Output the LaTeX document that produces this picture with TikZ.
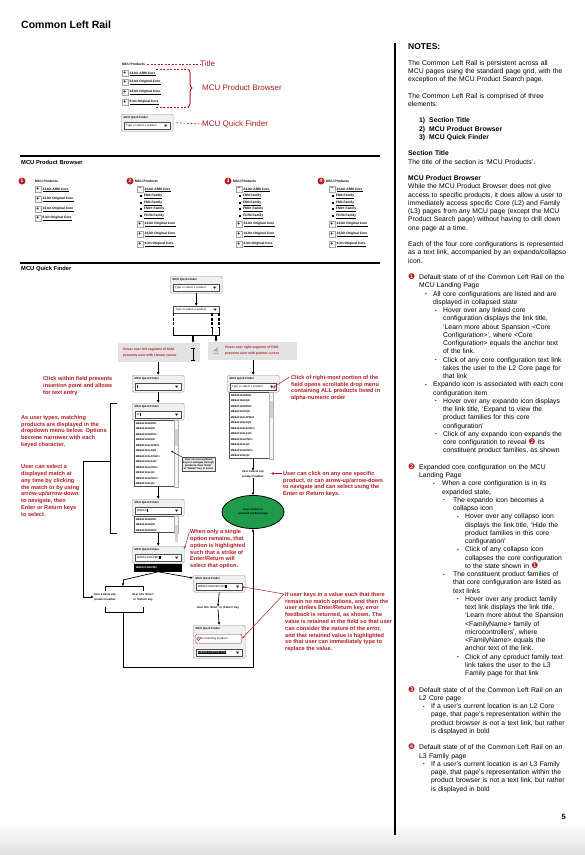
\documentclass[tikz,border=0pt]{standalone}
\usepackage{fontspec}
\setmainfont{Liberation Sans}
\newfontfamily\symfont{DejaVu Sans}
\usetikzlibrary{positioning,arrows.meta,decorations.pathreplacing,shapes.geometric}

\definecolor{notered}{HTML}{B71C22}
\definecolor{hovergray}{HTML}{E2E2E2}
\definecolor{pagegreen}{HTML}{1F9A4A}
\definecolor{framegray}{HTML}{9A9A9A}

\newcommand{\fs}[2]{\fontsize{#1}{#2}\selectfont}
\newcommand{\cnum}[1]{\smash{{\symfont\fs{7.8}{8}\textcolor{notered}{#1}}}}
\newcommand{\ind}[1]{\hspace*{#1pt}}
\newcommand{\bul}[2]{\hspace*{#1pt}\makebox[#2pt][l]{\raisebox{0.6pt}{\fs{4.5}{4.5}\textbullet}}}
\newcommand{\icur}{\rule[-0.5pt]{0.35pt}{3.4pt}}
\newcommand{\bcur}{\rule[-0.5pt]{1.6pt}{3.4pt}}
\newcommand{\hilite}[1]{{\setlength{\fboxsep}{0.4pt}\colorbox{black}{\textcolor{white}{#1}}}}

\tikzset{
  sechead/.style={anchor=west, inner sep=0, font=\bfseries\fs{5.8}{7}},
  minihead/.style={inner sep=0, font=\bfseries\fs{3.3}{4}},
  linklbl/.style={inner sep=0, anchor=west, font=\bfseries\fs{3.3}{4}},
  iconbox/.style={draw=gray!70, fill=gray!8, minimum size=5.5pt, inner sep=0, font=\bfseries\fs{5}{5}},
  fambullet/.style={fill=black, minimum size=2pt, inner sep=0},
  numdot/.style={circle, fill=notered, text=white, font=\bfseries\fs{5}{5}, inner sep=0, minimum size=7pt},
  redlbl/.style={text=notered, anchor=west, inner sep=0, font=\fs{8}{9}},
  reddash/.style={draw=notered, dashed, dash pattern=on 2pt off 1.5pt, line width=0.6pt},
  redbrace/.style={draw=notered, line width=1pt, decorate, decoration={brace, amplitude=4pt}},
  rednote/.style={text=notered, anchor=north west, align=left, inner sep=0, font=\bfseries\fs{5.6}{6.8}},
  redarrow/.style={draw=notered, line width=0.5pt, -{Latex[length=2.5pt,width=2pt]}},
  qfbox/.style={draw=framegray, fill=gray!12, rounded corners=1.5pt, minimum width=52pt, minimum height=17pt, inner sep=0},
  qftitle/.style={inner sep=0, font=\bfseries\fs{2.8}{3}},
  qffield/.style={draw=gray!60!black, fill=white, minimum width=46pt, minimum height=7pt, text width=41pt,
    inner xsep=1.2pt, inner ysep=0pt, align=left, font=\fs{2.8}{3}},
  qflistbox/.style={draw=gray!60!black, fill=white, text width=41pt, inner sep=1.6pt, align=left,
    font=\bfseries\fs{2.6}{5.5}},
  hoverbox/.style={fill=hovergray, inner sep=0, anchor=north west},
  hovertext/.style={text=notered, inner sep=0, anchor=west, align=left, font=\bfseries\fs{3.4}{6.2}},
  smalllbl/.style={inner sep=0, align=center, font=\bfseries\fs{2.8}{4.6}},
  flow/.style={line width=1.3pt, -{Latex[length=3pt,width=3pt]}},
  flowthin/.style={line width=0.7pt, -{Latex[length=2.6pt,width=2.6pt]}},
  segdash/.style={line width=1.3pt, dash pattern=on 3pt off 1.5pt},
  rule/.style={line width=1.6pt},
  handcur/.style={inner sep=0, font=\symfont\fs{9}{9}}
}

% one Quick Finder widget: name, left x, top y, field content
\newcommand{\qfwidget}[4]{%
  \node[qfbox, anchor=north west] (#1) at (#2,#3) {};
  \node[qftitle, anchor=north west] (#1-title) at ([xshift=2.5pt,yshift=-2.2pt]#1.north west) {MCU Quick Finder};
  \node[qffield, anchor=south west] (#1-field) at ([xshift=2.5pt,yshift=2pt]#1.south west) {#4};
  \qfarrow{#1-field}}
\newcommand{\qfarrow}[1]{%
  \fill[black!85] ([xshift=-6pt,yshift=1.1pt]#1.east) -- ++(3.4,0) -- ++(-1.7,2.2) -- cycle;}
% drop list under a widget: name, widget, items
\newcommand{\qflist}[3]{%
  \node[qflistbox, anchor=north west] (#1) at ([xshift=2pt]#2.south west) {#3};
  \draw[gray!60, fill=gray!8] ([xshift=-4pt]#1.north east) rectangle (#1.south east);
  \fill[gray!35] ([xshift=-3.4pt,yshift=-9pt]#1.north east) rectangle ([xshift=-0.6pt,yshift=-26pt]#1.north east);}
% core configuration link with expando icon
\newcommand{\coreitem}[5]{%
  \node[iconbox, anchor=west] (#1) at (#2,#3) {#4};
  \node[linklbl, right=1.6pt of #1] (#1-lbl) {#5};
  \draw[line width=0.25pt] ([yshift=-0.5pt]#1-lbl.south west) -- ([yshift=-0.5pt]#1-lbl.south east);}
\newcommand{\famitem}[4]{%
  \node[fambullet] (#1) at (#2,#3) {};
  \node[linklbl, right=1.8pt of #1] (#1-lbl) {#4};
  \draw[line width=0.25pt] ([yshift=-0.5pt]#1-lbl.south west) -- ([yshift=-0.5pt]#1-lbl.south east);}

\begin{document}
\begin{tikzpicture}[x=1pt, y=-1pt, font=\fs{6.8}{8.25}]

  % page
  \useasboundingbox (0,0) rectangle (585,855);
  \fill[white] (0,0) rectangle (585,855);
  \shade[top color=white, bottom color=gray!25] (0,822) rectangle (585,855);

  \node[anchor=base west, inner sep=0, font=\bfseries\fs{10.5}{12}] (page-title) at (21,28) {Common Left Rail};
  \draw[line width=2pt] (395,43) -- (395,835);

  % ---------------- the rail at a glance ----------------
  \node[minihead, anchor=west] (rail-head) at (122,64) {MCU Products};
  \foreach \y/\lbl [count=\i] in {73/32-bit ARM Core, 82/32-bit Original Core, 92/16-bit Original Core, 102/8-bit Original Core}
    \coreitem{rail-\i}{122}{\y}{+}{\lbl};
  \qfwidget{rail-qf}{121}{114}{Type or select a product}

  \node[redlbl] (lbl-title) at (200,64) {Title};
  \node[redlbl] (lbl-browser) at (202,88) {MCU Product Browser};
  \node[redlbl] (lbl-finder) at (202,124) {MCU Quick Finder};
  \coordinate (brace-in-top) at (156,69);
  \coordinate (brace-in-bot) at (156,107);
  \coordinate (brace-top) at (188,69);
  \coordinate (brace-bot) at (188,107);
  \draw[reddash] ([xshift=2pt]rail-head.east) -- (lbl-title.west);
  \draw[reddash] (brace-in-top) -- (brace-top);
  \draw[reddash] (brace-in-bot) -- (brace-bot);
  \draw[redbrace] (brace-top) -- (brace-bot);
  \draw[reddash] ([xshift=3pt]rail-qf.east) -- (lbl-finder.west);

  % ---------------- MCU Product Browser ----------------
  \draw[rule] (20,156) -- (380,156);
  \node[sechead] (sec-browser) at (21,162) {MCU Product Browser};

  \node[numdot] (num1) at (22,181) {1};
  \node[minihead, anchor=west] (col1-head) at (35,181) {MCU Products};
  \foreach \y/\lbl [count=\i] in {189/32-bit ARM Core, 199/32-bit Original Core, 209/16-bit Original Core, 218/8-bit Original Core}
    \coreitem{col1-\i}{35}{\y}{+}{\lbl};

  \foreach \n/\cx/\bx/\fx in {2/130/137/141, 3/228/236/240, 4/321/329/333} {
    \node[numdot] (num\n) at (\cx,181) {\n};
    \node[minihead, anchor=west] (col\n-head) at (\cx+5,181) {MCU Products};
    \coreitem{col\n-1}{\bx}{189}{--}{32-bit ARM Core}
    \foreach \y/\fam [count=\j] in {196/FM4 Family, 203/FM3 Family, 209/FM0+ Family, 216/FCR4 Family}
      \famitem{col\n-f\j}{\fx}{\y}{\fam};
    \foreach \y/\lbl [count=\j from 2] in {224/32-bit Original Core, 234/16-bit Original Core, 244/8-bit Original Core}
      \coreitem{col\n-\j}{\bx}{\y}{+}{\lbl};
  }

  % ---------------- MCU Quick Finder flow ----------------
  \draw[rule] (20,263) -- (380,263);
  \node[sechead] (sec-finder) at (21,269) {MCU Quick Finder};

  \qfwidget{qf-a}{170}{276}{Type or select a product}
  \node[qffield, anchor=north west] (qf-b) at (173,306) {Type or select a product};
  \qfarrow{qf-b}
  % field segments
  \coordinate (seg-l) at (193,335);
  \coordinate (seg-r) at (216,335);
  \draw[segdash] (173.5,313) -- (173.5,327);
  \draw[segdash] (212,313) -- (212,327);
  \draw[segdash] (219,313) -- (219,327);
  \draw[line width=0.8pt] (173.5,327) -- (173.5,335) -- (219,335) -- (219,327) (212,327) -- (212,335);

  \node[hoverbox, minimum width=82pt, minimum height=19pt] (hover-l) at (118,343) {};
  \node[hovertext] (hover-l-txt) at ([xshift=5pt]hover-l.west) {Hover over left segment of field\\presents user with I-beam cursor};
  \node[hoverbox, minimum width=89pt, minimum height=18pt] (hover-r) at (208,342) {};
  \node[handcur] (hand-r) at (216,351.5) {☝};
  \node[hovertext] (hover-r-txt) at (225,351) {Hover over right segment of field\\presents user with pointer cursor};
  \draw[line width=0.7pt] (191.3,348) -- (194.7,348) (193,348) -- (193,360) (191.3,360) -- (194.7,360);

  \qfwidget{qf-c}{132}{375}{\icur}
  \qfwidget{qf-d}{132}{403}{M\icur}
  \qflist{list-d}{qf-d}{MB9AF116NPMC\\MB9AF116NQN\\MB9AF132KPMC\\MB9AF132KQN\\MB9AF116LAPMC1\\MB9AF116LAQN\\MB9AF132LAPMC1\\MB9AF132LAQN\\MB9AF116LPMC1\\MB9AF116LQN\\MB9AF132LPMC1\\MB9AF132LQN}
  \node[draw=gray!60!black, fill=gray!15, inner sep=1pt, anchor=north west, align=center, font=\bfseries\fs{2.6}{3.3}] (tip-d) at (182,457) {User can use up/down\\keys to navigate through\\products, then `Enter'\\or `Return' key to select};
  \coordinate (tip-d-to) at (171,451);
  \draw[line width=0.4pt, -{Latex[length=2pt,width=1.8pt]}] (tip-d.north west) -- (tip-d-to);
  \qfwidget{qf-e}{132}{499}{MB9AF\icur}
  \qflist{list-e}{qf-e}{MB9AF116NPMC\\MB9AF116NQN\\MB9AF132KPMC}
  \qfwidget{qf-f}{132}{546}{MB9AF132KPMC\bcur}
  \node[fill=black, text=white, minimum width=48pt, minimum height=8pt, inner sep=1pt, text width=44pt, align=left,
    anchor=north west, font=\bfseries\fs{2.6}{3}] (bar-f) at ([xshift=2pt]qf-f.south west) {MB9AF132KPMC};

  \qfwidget{qf-g}{227}{375}{Type or select a product}
  \qflist{list-g}{qf-g}{MB9AF116NPMC\\MB9AF116NQN\\MB9AF132KPMC\\MB9AF132KQN\\MB9AF116LAPMC1\\MB9AF116LAQN\\MB9AF132LAPMC1\\MB9AF132LAQN\\MB9AF116LPMC1\\MB9AF116LQN\\MB9AF132LPMC1\\MB9AF132LQN}
  \node[handcur, font=\symfont\fs{8}{8}] (hand-g) at (273.5,389) {☝};
  \node[smalllbl] (sel-g) at (253,474.5) {User selects any\\product number};
  \node[ellipse, draw, line width=0.8pt, fill=pagegreen, minimum width=62pt, minimum height=33pt, inner sep=0,
    align=center, font=\bfseries\fs{2.8}{4.4}] (arrive) at (253,512) {User arrives at\\selected product page};

  \qfwidget{qf-h}{193}{575}{MB9AF132KPMC123\bcur}
  \node[smalllbl] (hits-h) at (218,608) {User hits `Enter' or `Return' key};
  \node[qfbox, anchor=north west, minimum height=33pt] (qf-i) at (193,625) {};
  \node[qftitle, anchor=north west] (qf-i-title) at ([xshift=2.5pt,yshift=-2.2pt]qf-i.north west) {MCU Quick Finder};
  \node[draw=notered, fill=white, rounded corners=1pt, minimum width=46pt, minimum height=9pt, text width=37pt,
    inner xsep=4.5pt, inner ysep=1pt, align=left, anchor=north west, font=\fs{2.8}{3}] (err-i) at (195.5,634) {No matching products};
  \node[circle, draw=notered, line width=0.4pt, inner sep=0, minimum size=3.6pt, text=notered, font=\bfseries\fs{2.6}{3}]
    (err-i-mark) at ([xshift=3pt]err-i.west) {!};
  \node[qffield, anchor=south west] (qf-i-field) at ([xshift=2.5pt,yshift=2pt]qf-i.south west) {\hilite{MB9AF132KPMC123}};
  \qfarrow{qf-i-field}

  % selection bracket
  \node[smalllbl] (pick-num) at (105,597) {User selects any\\product number};
  \node[smalllbl] (pick-key) at (143,597) {User hits `Enter'\\or `Return' key};
  \coordinate (pick-top) at (123,586);
  \coordinate (pick-bot) at (123,612);
  \draw[line width=0.7pt] (105,590.5) -- (105,586) -- (143,586) -- (143,590.5);
  \draw[line width=0.7pt] (105,607) -- (105,612) -- (143,612) -- (143,607);
  \coordinate (bend-f) at (123,580);
  \coordinate (loop-l) at (123,667);
  \coordinate (loop-r) at (253,667);

  % bracket around typing states
  \draw[line width=0.7pt] (117,403) -- (110,403) -- (110,533) -- (117,533);
  \coordinate (match-out) at (110,461);
  \coordinate (match-bend) at (83,461);
  \coordinate (match-down) at (83,597);
  \draw[flowthin] (match-out) -- (match-bend) -- (match-down) -- (pick-num.west);

  % flow connectors
  \draw[flow] (qf-a.south) -- (qf-b.north -| qf-a.south);
  \draw[flow] (seg-l) -- (seg-l |- hover-l.north);
  \draw[flow] (seg-r) -- (seg-r |- hover-r.north);
  \draw[flow] (hover-l.south -| qf-c.north) -- (qf-c.north);
  \draw[flow] (qf-c.south) -- (qf-d.north);
  \draw[flow] (list-d.south -| qf-e.north) -- (qf-e.north);
  \draw[flow] (list-e.south -| qf-f.north) -- (qf-f.north);
  \draw[flow] (qf-g.north |- hover-r.south) -- (qf-g.north);
  \draw[flowthin] (list-g.south -| sel-g.north) -- (sel-g.north);
  \draw[flowthin] (sel-g.south) -- (arrive.north);
  \draw[line width=0.7pt] (bar-f.south) -- (bend-f);
  \draw[flowthin] (bend-f) -- (pick-top);
  \draw[flowthin] (bar-f.south) -- ([yshift=-3pt]qf-h.north west);
  \draw[flowthin] (qf-h.south) -- (hits-h.north);
  \draw[flowthin] (hits-h.south) -- (qf-i.north);
  \draw[flowthin] (pick-bot) -- (loop-l) -- (loop-r) -- (arrive.south);

  % red notes of the flow
  \node[rednote] (note-click) at (43,376.5) {Click within field presents\\insertion point and allows\\for text entry};
  \node[rednote] (note-types) at (21,415) {As user types, matching\\products are displayed in the\\dropdown menu below. Options\\become narrower with each\\keyed character.};
  \node[rednote] (note-select) at (21,464.5) {User can select a\\displayed match at\\any time by clicking\\the match or by using\\arrow-up/arrow-down\\to navigate, then\\Enter or Return keys\\to select.};
  \node[rednote] (note-right) at (291,375) {Click of right-most portion of the\\field opens scrollable drop menu\\containing ALL products listed in\\alpha-numeric order};
  \node[rednote] (note-pick) at (283,471) {User can click on any one specific\\product, or can arrow-up/arrow-down\\to navigate and can select using the\\Enter or Return keys.};
  \node[rednote] (note-single) at (190,529.5) {When only a single\\option remains, that\\option is highlighted\\such that a strike of\\Enter/Return will\\select that option.};
  \node[rednote] (note-nomatch) at (285,592) {If user keys in a value such that there\\remain no match options, and then the\\user strikes Enter/Return key, error\\feedback is returned, as shown. The\\value is retained in the field so that user\\can consider the nature of the error,\\and that retained value is highlighted\\so that user can immediately type to\\replace the value.};

  \draw[redarrow] ([xshift=-1.5pt,yshift=-2pt]note-right.north west) -- ([xshift=-3pt,yshift=-1pt]qf-g-field.east);
  \coordinate (pick-arrow-end) at (271,473.5);
  \draw[draw=notered, line width=1.6pt, -{Latex[length=2.5pt,width=3pt]}] ([xshift=-1.5pt,yshift=-2.5pt]note-pick.north west) -- (pick-arrow-end);
  \draw[redarrow] ([xshift=-0.5pt,yshift=-2pt]note-single.north west) -- ([yshift=-3pt]qf-f.north east);
  \draw[redarrow] ([xshift=-1pt,yshift=-2pt]note-nomatch.north west) -- (qf-h-field.east);
  \draw[redarrow] ([xshift=-1pt,yshift=-2pt]note-nomatch.north west) -- (err-i.east);

  % ---------------- notes column ----------------
  \node[anchor=base west, inner sep=0, font=\bfseries\fs{8.5}{9}] (notes-head) at (408,49.5) {NOTES:};
  \node[anchor=north west, inner sep=0, text width=175pt, align=left] (notes-body) at (408,60) {%
The Common Left Rail is persistent across all\\
MCU pages using the standard page grid, with the\\
exception of the MCU Product Search page.\\
\mbox{}\\
The Common Left Rail is comprised of three\\
elements:\\
\mbox{}\\
\ind{11}\textbf{1)\hspace{4pt}Section Title}\\
\ind{11}\textbf{2)\hspace{4pt}MCU Product Browser}\\
\ind{11}\textbf{3)\hspace{4pt}MCU Quick Finder}\\
\mbox{}\\
\textbf{Section Title}\\
The title of the section is `MCU Products'.\\
\mbox{}\\
\textbf{MCU Product Browser}\\
While the MCU Product Browser does not give\\
access to specific products, it does allow a user to\\
immediately access specific Core (L2) and Family\\
(L3) pages from any MCU page (except the MCU\\
Product Search page) without having to drill down\\
one page at a time.\\
\mbox{}\\
Each of the four core configurations is represented\\
as a text link, accompanied by an expando/collapso\\
icon.\\
\mbox{}\\
\makebox[11pt][l]{\cnum{❶}}Default state of of the Common Left Rail on the\\
\ind{11}MCU Landing Page\\
\bul{17}{8}All core configurations are listed and are\\
\ind{25}displayed in collapsed state\\
\bul{27}{8}Hover over any linked core\\
\ind{35}configuration displays the link title,\\
\ind{35}`Learn more about Spansion <Core\\
\ind{35}Configuration>', where <Core\\
\ind{35}Configuration> equals the anchor text\\
\ind{35}of the link.\\
\bul{27}{8}Click of any core configuration text link\\
\ind{35}takes the user to the L2 Core page for\\
\ind{35}that link\\
\bul{17}{8}Expando icon is associated with each core\\
\ind{25}configuration item\\
\bul{27}{8}Hover over any expando icon displays\\
\ind{35}the link title, `Expand to view the\\
\ind{35}product families for this core\\
\ind{35}configuration'\\
\bul{27}{8}Click of any expando icon expands the\\
\ind{35}core configuration to reveal \cnum{❷} its\\
\ind{35}constituent product families, as shown\\
\mbox{}\\
\makebox[11pt][l]{\cnum{❷}}Expanded core configuration on the MCU\\
\ind{11}Landing Page\\
\bul{25}{9}When a core configuration is in its\\
\ind{34}expanded state,\\
\bul{35}{10}The expando icon becomes a\\
\ind{45}collapso icon\\
\bul{49}{8}Hover over any collapso icon\\
\ind{57}displays the link title, `Hide the\\
\ind{57}product families in this core\\
\ind{57}configuration'\\
\bul{49}{8}Click of any collapso icon\\
\ind{57}collapses the core configuration\\
\ind{57}to the state shown in \cnum{❶}\\
\bul{35}{10}The constituent product families of\\
\ind{45}that core configuration are listed as\\
\ind{45}text links\\
\bul{49}{8}Hover over any product family\\
\ind{57}text link displays the link title,\\
\ind{57}`Learn more about the Spansion\\
\ind{57}<FamilyName> family of\\
\ind{57}microcontrollers', where\\
\ind{57}<FamilyName> equals the\\
\ind{57}anchor text of the link.\\
\bul{49}{8}Click of any cproduct family text\\
\ind{57}link takes the user to the L3\\
\ind{57}Family page for that link\\
\mbox{}\\
\makebox[11pt][l]{\cnum{❸}}Default state of of the Common Left Rail on an\\
\ind{11}L2 Core page\\
\bul{15}{8}If a user's current location is an L2 Core\\
\ind{23}page, that page's representation within the\\
\ind{23}product browser is not a text link, but rather\\
\ind{23}is displayed in bold\\
\mbox{}\\
\makebox[11pt][l]{\cnum{❹}}Default state of of the Common Left Rail on an\\
\ind{11}L3 Family page\\
\bul{15}{8}If a user's current location is an L3 Family\\
\ind{23}page, that page's representation within the\\
\ind{23}product browser is not a text link, but rather\\
\ind{23}is displayed in bold};
  \node[anchor=base east, inner sep=0, font=\bfseries\fs{7.5}{8}] (page-num) at (566,819) {5};

\end{tikzpicture}
\end{document}
